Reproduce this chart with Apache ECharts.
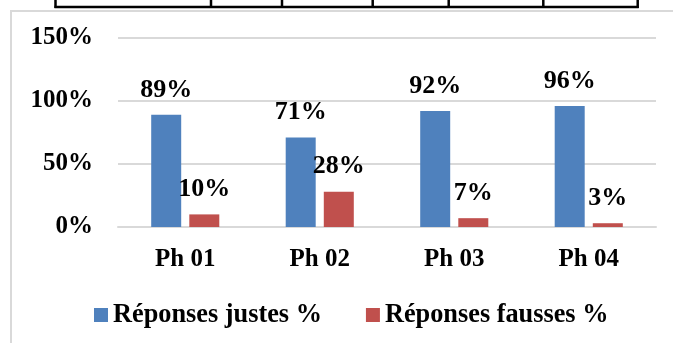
<!DOCTYPE html>
<html>
<head>
<meta charset="utf-8">
<script src="https://cdn.jsdelivr.net/npm/echarts@6/dist/echarts.min.js"></script>
<style>
  html, body { margin: 0; padding: 0; background: #fff; }
  #chart { width: 673px; height: 343px; }
</style>
</head>
<body>
<div id="chart"></div>
<script>
// Phases and answer percentages
const categories = ['Ph 01', 'Ph 02', 'Ph 03', 'Ph 04'];
const correctPct = [89, 71, 92, 96];
const wrongPct = [10, 28, 7, 3];
const seriesNames = ['Réponses justes %', 'Réponses fausses %'];
const yTicks = { min: 0, max: 150, interval: 50 };

const FONT = '"Liberation Serif", "Times New Roman", serif';
const chart = echarts.init(document.getElementById('chart'), null, { renderer: 'canvas' });

// Decorative frame: bottom edge of a table above the chart and the chart border
const tableCols = [55.5, 211, 282, 372.7, 448.7, 543.3, 637.7];
const frame = [
  {
    type: 'rect', z: 0, silent: true,
    shape: { x: 11, y: 11, width: 720, height: 400 },
    style: { fill: null, stroke: '#d9d9d9', lineWidth: 2 }
  },
  {
    type: 'line', z: 1, silent: true,
    shape: { x1: tableCols[0] - 1, y1: 7, x2: tableCols[tableCols.length - 1] + 1, y2: 7 },
    style: { stroke: '#000', lineWidth: 2.5 }
  }
].concat(tableCols.map(x => ({
  type: 'line', z: 1, silent: true,
  shape: { x1: x, y1: -2, x2: x, y2: 8 },
  style: { stroke: '#000', lineWidth: 2.5 }
})));

const labelStyle = {
  show: true,
  position: 'top',
  distance: 12,
  formatter: '{c}%',
  fontFamily: FONT,
  fontWeight: 'bold',
  fontSize: 26,
  color: '#000'
};

chart.setOption({
  animation: false,
  backgroundColor: '#fff',
  graphic: frame,
  grid: { left: 118, right: 17, top: 38, bottom: 116 },
  legend: {
    left: 94,
    top: 302,
    padding: 0,
    itemWidth: 14,
    itemHeight: 14,
    itemGap: 44,
    icon: 'rect',
    textStyle: { fontFamily: FONT, fontWeight: 'bold', fontSize: 26.3, color: '#000' },
    data: seriesNames
  },
  xAxis: {
    type: 'category',
    data: categories,
    axisLine: { lineStyle: { color: '#d9d9d9', width: 2 } },
    axisTick: { show: false },
    axisLabel: {
      margin: 20,
      fontFamily: FONT, fontWeight: 'bold', fontSize: 25, color: '#000'
    }
  },
  yAxis: {
    type: 'value',
    min: yTicks.min, max: yTicks.max, interval: yTicks.interval,
    axisLine: { show: false },
    axisTick: { show: false },
    splitLine: { lineStyle: { color: '#d9d9d9', width: 2 } },
    axisLabel: {
      margin: 25,
      formatter: '{value}%',
      fontFamily: FONT, fontWeight: 'bold', fontSize: 25, color: '#000'
    }
  },
  series: [
    {
      name: seriesNames[0], type: 'bar', data: correctPct,
      barWidth: 30, barGap: '27%',
      itemStyle: { color: '#4F81BD' },
      label: labelStyle
    },
    {
      name: seriesNames[1], type: 'bar', data: wrongPct,
      barWidth: 30,
      itemStyle: { color: '#C0504D' },
      label: labelStyle
    }
  ]
});
</script>
</body>
</html>
